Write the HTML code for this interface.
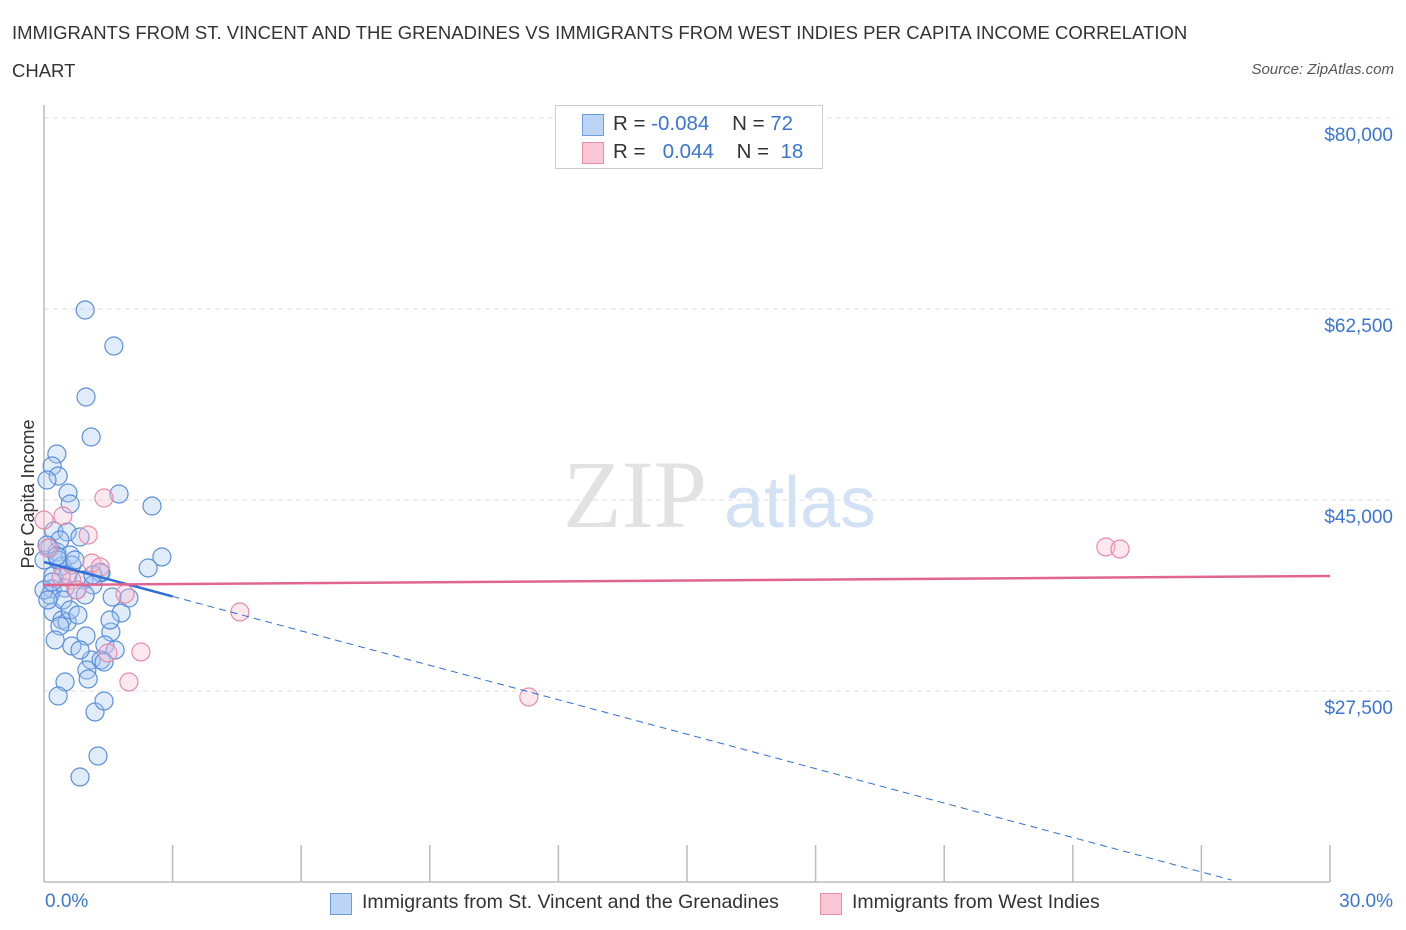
<!DOCTYPE html>
<html><head><meta charset="utf-8">
<style>
body{margin:0;background:#fff;font-family:"Liberation Sans",sans-serif;}
#wrap{position:relative;width:1406px;height:930px;overflow:hidden;}
.t{position:absolute;white-space:nowrap;}
</style></head>
<body>
<div id="wrap">
<div class="t" style="left:12px;top:14px;font-size:18.5px;color:#333;line-height:38px;">IMMIGRANTS FROM ST. VINCENT AND THE GRENADINES VS IMMIGRANTS FROM WEST INDIES PER CAPITA INCOME CORRELATION<br>CHART</div>
<div class="t" style="right:12px;top:61px;font-size:15px;color:#555;font-style:italic;">Source: ZipAtlas.com</div>
<svg id="svg" width="1406" height="930" style="position:absolute;left:0;top:0"></svg>
</div>
<script>
const blueX=[0.96,1.63,0.98,1.10,0.30,0.19,0.33,0.07,0.56,1.75,0.61,2.52,0.23,0.54,0.84,0.14,0.30,0.61,2.75,2.43,0,0.42,0.65,1.31,0.21,0.56,0.93,1.33,0.19,0.49,1.14,0.75,0.14,1.59,1.98,1.80,0.21,0.42,0.54,0.37,1.56,0.98,0.65,1.42,1.10,1.33,1.0,1.66,1.40,0.49,1.03,0.33,1.19,1.40,1.26,0.84,0,0.33,0.72,0.37,0.07,0.19,0.44,0.61,0.96,1.14,0.09,0.26,0.79,0.84,1.54,0.30];
const blueY=[62408,59110,54437,50772,49215,48115,47199,46832,45641,45550,44634,44450,42160,42068,41610,40602,40236,39961,39778,38770,39503,38953,39045,38403,38037,38128,37670,38312,36846,36937,37212,36754,36296,36113,36021,34647,34739,34006,33822,33456,32906,32540,31624,31715,30341,30341,29424,31257,30157,28325,28600,27042,25577,26584,21545,19621,36754,39503,39503,41335,40877,37487,35838,34922,36296,38128,35838,32173,34463,31257,34006,39870];
const pinkX=[1.40,0.44,0,1.03,0.09,1.12,0.65,0.40,1.89,1.31,4.57,2.26,1.98,1.49,11.31,24.77,25.1,0.77];
const pinkY=[45183,43534,43168,41793,40602,39228,37670,37945,36388,38861,34739,31074,28325,30982,26951,40694,40511,36754];
const yTicks=[27500,45000,62500,80000];
const yLabels=["$27,500","$45,000","$62,500","$80,000"];
const pinkTrend=[37212,38037];
const blueTrend=[39320,10184,27.7];
const L=44,R=1330,B=882;
const sx=v=>L+v/30*(R-L);
const sy=v=>500-(v-45000)/17500*191;
const svg=document.getElementById('svg');
const NS='http://www.w3.org/2000/svg';
function mk(tag,attrs){const e=document.createElementNS(NS,tag);for(const k in attrs)e.setAttribute(k,attrs[k]);svg.appendChild(e);return e;}
yTicks.forEach((v,i)=>{
 const g=mk('line',{x1:L,x2:1395,y1:sy(v),y2:sy(v),stroke:'#ddd','stroke-dasharray':'5,4'});
 
 
 const t=mk('text',{x:1393,y:sy(v)+23,'text-anchor':'end',fill:'#3a75d4','font-size':19,'font-family':'Liberation Sans, sans-serif'});
 t.textContent=yLabels[i];
 
 
});
const yt=mk('text',{x:0,y:0,transform:'translate(34,494) rotate(-90)','text-anchor':'middle',fill:'#333','font-size':18,'font-family':'Liberation Sans, sans-serif'});
yt.textContent='Per Capita Income';


const ya=mk('line',{x1:L,x2:L,y1:105,y2:B,stroke:'#bbb','stroke-width':1.5});


const xa=mk('line',{x1:L,x2:R,y1:B,y2:B,stroke:'#bbb','stroke-width':1.5});


for(let i=1;i<=10;i++){const tk=mk('line',{x1:sx(i*3),x2:sx(i*3),y1:845,y2:B,stroke:'#bbb','stroke-width':1.5});
 
 }
const w1=mk('text',{x:635,y:527,'text-anchor':'middle',fill:'#e2e2e2','font-size':96,'font-family':'Liberation Serif, serif'});w1.textContent='ZIP';


const w2=mk('text',{x:800,y:527,'text-anchor':'middle',fill:'#d3e1f5','font-size':72,'font-family':'Liberation Sans, sans-serif'});w2.textContent='atlas';


blueX.forEach((x,i)=>{const c=mk('circle',{cx:sx(x),cy:sy(blueY[i]),r:9,fill:'rgba(170,200,240,0.35)',stroke:'#5b8fdc','stroke-width':1.2});
 
 });
pinkX.forEach((x,i)=>{const c=mk('circle',{cx:sx(x),cy:sy(pinkY[i]),r:9,fill:'rgba(248,190,210,0.35)',stroke:'#ea8aa8','stroke-width':1.2});
 
 });
const slope=(blueTrend[1]-blueTrend[0])/blueTrend[2];
const bs=mk('line',{x1:sx(0),y1:sy(blueTrend[0]),x2:sx(3),y2:sy(blueTrend[0]+slope*3),stroke:'#2f6fd6','stroke-width':2.5});


const bd=mk('line',{x1:sx(3),y1:sy(blueTrend[0]+slope*3),x2:sx(blueTrend[2]),y2:sy(blueTrend[1]),stroke:'#2f6fd6','stroke-width':1,'stroke-dasharray':'7,5'});


const pt=mk('line',{x1:sx(0),y1:sy(pinkTrend[0]),x2:sx(30),y2:sy(pinkTrend[1]),stroke:'#e06690','stroke-width':2.5});


</script>
<div class="t" style="left:45px;top:891px;font-size:19px;color:#3a75d4;">0.0%</div>
<div class="t" style="right:13px;top:891px;font-size:19px;color:#3a75d4;">30.0%</div>
<div style="position:absolute;left:555px;top:105px;width:266px;height:62px;border:1px solid #ccc;background:#fff;font-size:20.5px;color:#333;">
 <div style="position:absolute;left:26px;top:8px;width:20px;height:20px;background:#bcd5f7;border:1px solid #6d9de0;"></div>
 <div class="t" style="left:57px;top:6px;">R = <span style="color:#3a75d4">-0.084</span>&nbsp;&nbsp;&nbsp; N = <span style="color:#3a75d4">72</span></div>
 <div style="position:absolute;left:26px;top:36px;width:20px;height:20px;background:#f9c6d6;border:1px solid #e890ac;"></div>
 <div class="t" style="left:57px;top:34px;">R = &nbsp; <span style="color:#3a75d4">0.044</span>&nbsp;&nbsp;&nbsp; N = &nbsp;<span style="color:#3a75d4">18</span></div>
</div>
<div style="position:absolute;left:330px;top:891px;font-size:19.5px;color:#333;">
 <div style="position:absolute;left:0;top:2px;width:20px;height:20px;background:#bcd5f7;border:1px solid #6d9de0;"></div>
 <div class="t" style="left:32px;top:0;">Immigrants from St. Vincent and the Grenadines</div>
 <div style="position:absolute;left:490px;top:2px;width:20px;height:20px;background:#f9c6d6;border:1px solid #e890ac;"></div>
 <div class="t" style="left:522px;top:0;">Immigrants from West Indies</div>
</div>
</body></html>
